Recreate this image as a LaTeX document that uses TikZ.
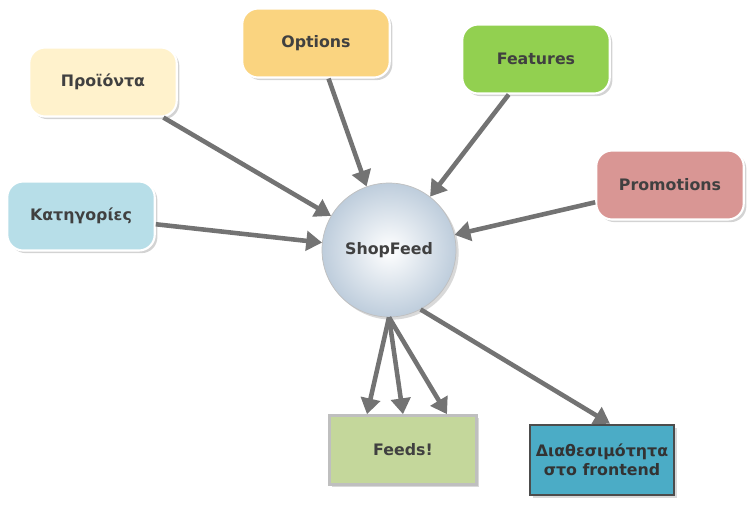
\documentclass[tikz,border=0pt]{standalone}
\usepackage{fontspec}
\setmainfont{DejaVu Sans}
\usetikzlibrary{arrows.meta,shadows}

\begin{document}
\begin{tikzpicture}[x=0.02cm, y=-0.02cm,
    box/.style={draw=white, line width=1.2pt, rounded corners=9pt, minimum width=2.95cm,
        minimum height=1.38cm, font=\bfseries\fontsize{9}{11}\selectfont, text=black!75,
        drop shadow={opacity=0.35, shadow xshift=1.5pt, shadow yshift=-1.5pt}},
    flow/.style={draw=black!55, line width=2.6pt, -{Triangle[length=9pt, width=11pt]}}
]
    \useasboundingbox (0,0) rectangle (755,508);

    \node[box, fill={rgb,255:red,255;green,242;blue,204}] (products) at (103,82) {Προϊόντα};
    \node[box, fill={rgb,255:red,250;green,212;blue,128}] (options) at (316,43) {Options};
    \node[box, fill={rgb,255:red,146;green,208;blue,80}] (features) at (536,59) {Features};
    \node[box, fill={rgb,255:red,217;green,150;blue,148}] (promos) at (670,185) {Promotions};
    \node[box, fill={rgb,255:red,183;green,222;blue,232}] (categories) at (81,216) {Κατηγορίες};

    \node[circle, draw=black!25, minimum size=2.68cm, inner color=white,
        outer color={rgb,255:red,190;green,205;blue,220}, font=\bfseries\fontsize{9}{11}\selectfont,
        text=black!75, drop shadow={opacity=0.3, shadow xshift=1.5pt, shadow yshift=-1.5pt}] (shop) at (389,250) {ShopFeed};

    \node[draw=black!25, line width=1.5pt, fill={rgb,255:red,196;green,215;blue,155}, minimum width=2.95cm,
        minimum height=1.38cm, font=\bfseries\fontsize{9}{11}\selectfont, text=black!75,
        drop shadow={opacity=0.3, shadow xshift=1.5pt, shadow yshift=-1.5pt}] (feeds) at (403,450) {Feeds!};
    \node[draw=black!70, line width=1.5pt, fill={rgb,255:red,75;green,172;blue,198}, minimum width=2.45cm,
        minimum height=1.4cm, align=center, font=\bfseries\fontsize{9}{11}\selectfont, text=black!80,
        drop shadow={opacity=0.3, shadow xshift=1.5pt, shadow yshift=-1.5pt}] (avail) at (602,460) {Διαθεσιμότητα\\στο frontend};

    \draw[flow] (products) -- (shop);
    \draw[flow] (options) -- (shop);
    \draw[flow] (features) -- (shop);
    \draw[flow] (promos) -- (shop);
    \draw[flow] (categories) -- (shop);

    \draw[flow] (shop.south) -- ([xshift=-0.72cm]feeds.north);
    \draw[flow] (shop.south) -- (feeds.north);
    \draw[flow] (shop.south) -- ([xshift=0.88cm]feeds.north);
    \draw[flow] (shop.-62) -- ([xshift=0.16cm]avail.north);
\end{tikzpicture}
\end{document}
